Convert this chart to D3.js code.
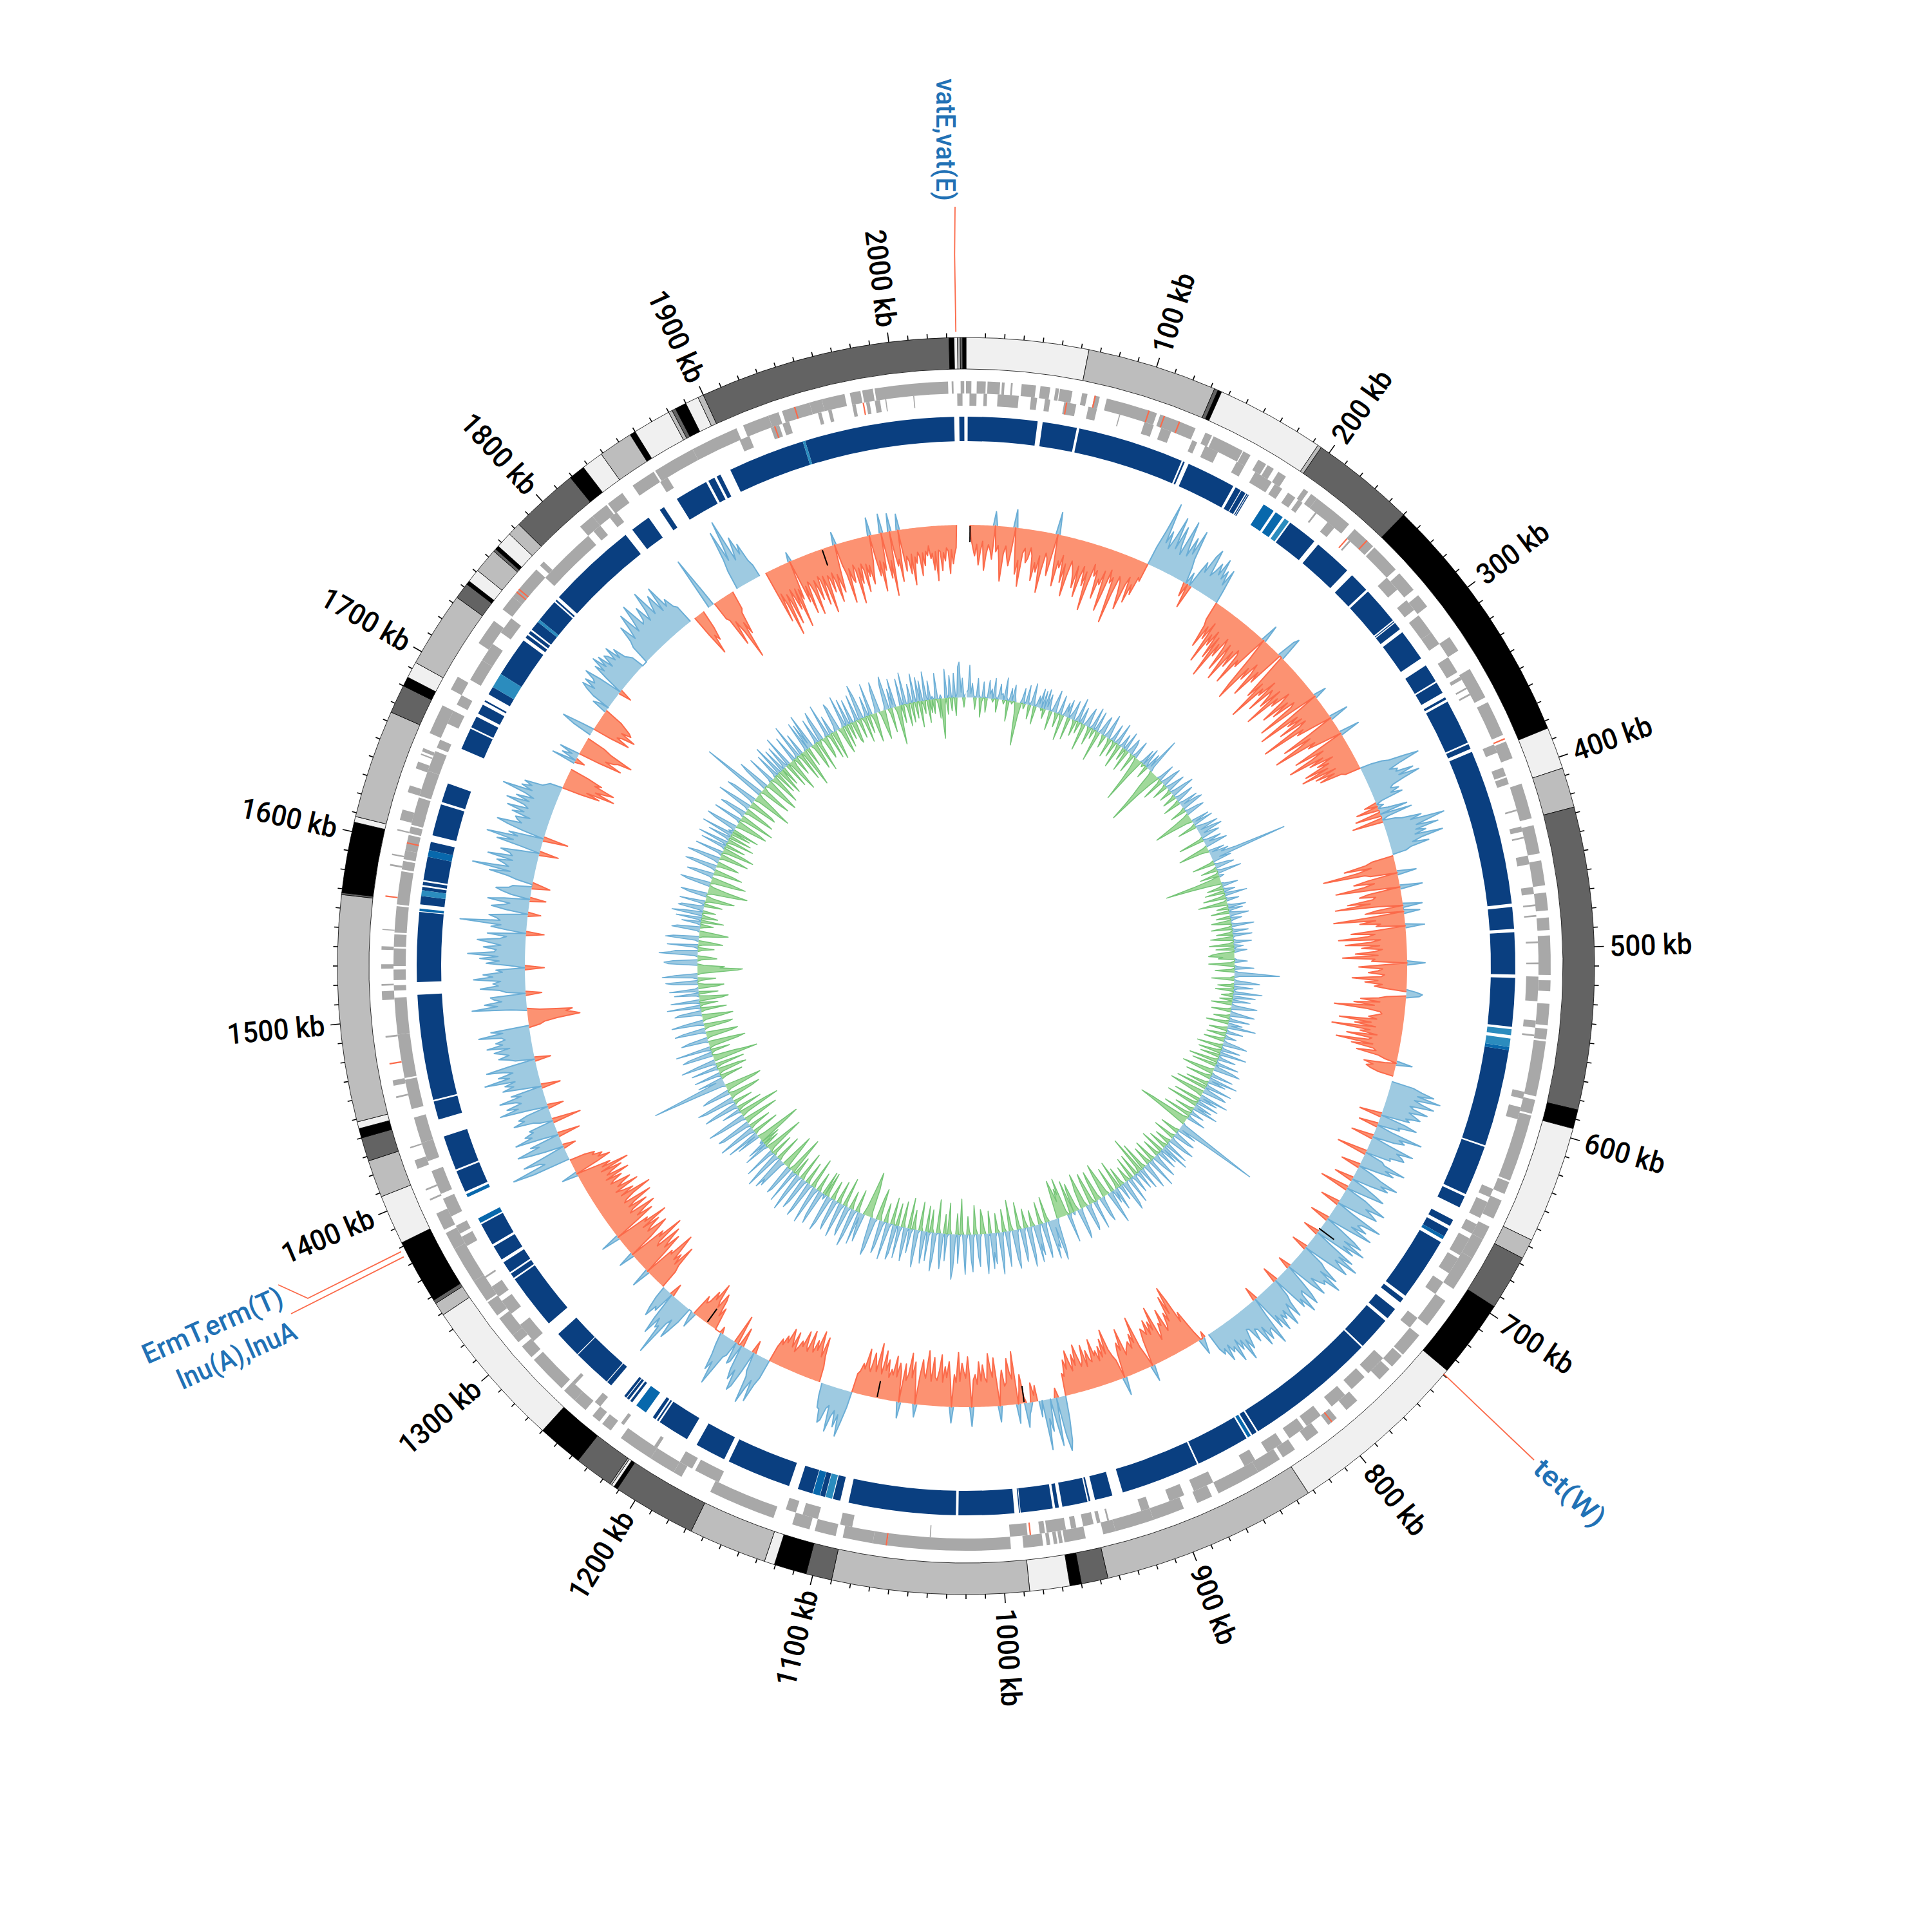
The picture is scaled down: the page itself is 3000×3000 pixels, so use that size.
<!DOCTYPE html>
<html><head><meta charset="utf-8">
<script src="https://cdnjs.cloudflare.com/ajax/libs/d3/7.8.5/d3.min.js"></script>
<style>html,body{margin:0;background:#fff}svg{display:block}</style></head><body>
<svg id="c" width="3000" height="3000"></svg>
<script>
const genomeKb = 2040;
const tickLabels = ["100 kb","200 kb","300 kb","400 kb","500 kb","600 kb","700 kb","800 kb","900 kb","1000 kb","1100 kb","1200 kb","1300 kb","1400 kb","1500 kb","1600 kb","1700 kb","1800 kb","1900 kb","2000 kb"];
const contigEnds = [64,132,134,136,193,195,250,384,406,427,585,595,656.5,667,696,737,833,946,960,966,987,1090,1103.6,1120.6,1126,1167,1211,1213,1214.5,1215.5,1236,1260,1339,1346,1348,1382,1408,1427.6,1440,1445,1448.6,1567,1568,1605,1608,1665,1680,1685,1693.6,1733.5,1742,1744,1751,1764,1765.5,1767.5,1776,1783,1819,1827.5,1839,1857,1860,1880,1882,1884,1890,1897,1900,2031.2,2033.8,2035.6,2037,2038.3,2040];
const contigShade = [3,2,1,0,3,2,1,0,3,2,1,0,3,2,1,0,3,2,1,0,3,2,1,0,3,2,1,0,3,2,1,0,3,2,1,0,3,2,1,0,3,2,1,0,3,2,1,0,3,2,1,0,3,2,1,0,3,2,1,0,3,2,0,3,2,1,0,3,2,1,0,3,2,1,0];
const shadeColors = ["#000000","#636363","#bdbdbd","#f0f0f0"];

// blocks of the blue ring, start and end in kb
const blocksDark = [[1,42.5],[45.5,66],[67.5,131],[132,133],[135.5,165],[166.6,170],[170.5,173.3],[174,174.6],[175,175.6],[205,223],[226,249],[253,265],[266.5,289],[289.8,290.4],[291,295.7],[298,317],[322,333],[334,341],[344,345.5],[347,374],[375,378],[380,473],[475,488],[490,515],[517,546],[560,618],[619,649],[650.5,657.7],[666,670],[672,677],[681,719],[721,724],[729,736],[738,758],[759,838],[839,842],[846,878],[879,926],[932.4,943],[945.8,946.8],[947.6,962.7],[964.8,967],[968.5,987.6],[988,988.6],[991.3,1024.5],[1026,1090],[1095,1099.5],[1104.3,1107.3],[1112,1121],[1126.5,1165],[1168,1186.4],[1193,1212],[1213,1214],[1215,1217],[1232,1233.5],[1234.5,1236],[1236.5,1238],[1248,1251],[1251.5,1274.7],[1275.2,1291.6],[1300,1333],[1334,1337],[1338,1345],[1347,1356],[1357.5,1371],[1392.5,1405.7],[1406.8,1427.5],[1438,1449],[1450,1513],[1520.5,1562],[1566.5,1571.5],[1575,1577],[1578,1580],[1581,1595],[1599,1604],[1608,1627],[1628.5,1640],[1662,1675],[1676,1683],[1685,1691],[1693,1694],[1698,1703],[1712,1736],[1738,1740],[1741,1743],[1744,1749.8],[1751.5,1765],[1766,1767],[1769,1823],[1828,1840],[1848,1851],[1860,1880],[1881.5,1885.5],[1887,1889.5],[1896,1942],[1943.5,2033],[2036,2039]];
const blocksMid = [[186,193],[194.5,199.5],[558,560],[677,679],[843,845],[1107.5,1111.7],[1222,1229],[1372,1375],[1389,1391],[1562.5,1564],[1595,1599]];
const blocksLight = [[201,204],[547.5,551],[553,558],[1100,1104],[1571.5,1575],[1703,1712],[1749.8,1751.5],[1942,1943.5]];

// genes on the outer and the inner strand, start and end in kb
const geneOuter = [[0,3],[6,11],[12,19],[20,21.5],[25,26],[31,39],[41.5,47],[50,52],[52.5,59.5],[65,68],[72,75],[79,108],[110,131],[137,141],[142,160],[160.5,165],[170,175],[176,180],[183,188],[200,203],[205,209],[209,232],[236,250],[251,268],[271,283],[287,295],[316,325],[337,355],[358,378],[382,392],[407,427],[431,447],[451,465],[469,479],[483,490],[493,515],[518,524],[531,543],[545,551],[552,583],[585,593],[594,632],[633,640],[644,655],[660,668],[668,680],[680,700],[708,725],[732,746],[747,755],[757,765],[782,790],[797,803],[810,818],[826,834],[836,850],[850,875],[879,888],[896,914],[914,936],[936,943],[953,965],[966,968],[969,971],[973,975],[977,988],[995,1064],[1064,1072],[1072,1089],[1093,1105],[1108,1118],[1129,1167],[1185,1190],[1190,1205],[1205,1225],[1232,1238],[1240,1245],[1250,1258],[1258,1266],[1268,1290],[1292,1300],[1303,1308],[1308,1320],[1322,1331],[1332,1345],[1345,1366],[1366,1376],[1378,1388],[1396,1397],[1402,1403],[1415,1420],[1427,1427.8],[1456,1457],[1463,1466],[1490,1491],[1511,1516],[1519,1520],[1528.5,1531],[1539,1541],[1550,1550.6],[1586,1587],[1592,1592.8],[1606,1606.8],[1612,1618],[1628,1632],[1642,1646],[1650,1650.8],[1652,1654],[1663,1680],[1690,1698],[1720,1735],[1743,1752],[1752,1772],[1775,1778],[1806,1815],[1815,1825],[1826,1836],[1843,1857],[1858,1882],[1882,1909],[1913,1928],[1928,1934],[1936,1952],[1952,1959],[1959,1972],[1975,1981],[1982,1988],[1989,2030],[2032,2033],[2037,2039]];
const geneInner = [[2,6],[10,12],[18,30],[37,40.5],[45,48],[56,63],[70,75],[88,88.6],[103,108.5],[113,119],[132,135],[140,148],[160,165],[172,183],[185,190],[194,199],[201,204],[213,214],[222,227],[238,239],[268,277],[285,292],[296,308],[308,316],[325,335],[338,340],[345,346],[349,350],[381,386],[395,400],[401,405],[420,421],[430,433],[436,437],[447,452],[465,469],[475,476],[481,482],[496,497],[508,509],[516,530],[541,545],[549,550],[582,586],[591,598],[640,645],[648,658],[662,668],[671,682],[684,694],[700,708],[725,732],[755,767],[770,780],[785,795],[803,813],[815,825],[830,840],[848,855],[875,887],[893,902],[914,919],[938,939],[943,945],[947,953],[957,960],[963,974],[975,978],[985,995],[1040,1040.6],[1085,1092],[1105,1114],[1118,1124],[1165,1180],[1182,1190],[1205,1207],[1228,1230],[1245,1249],[1264,1266],[1298,1310],[1318,1327],[1330,1337],[1343,1344],[1364,1370],[1372,1377],[1383,1394],[1397,1411],[1417,1428],[1428,1443],[1448,1465],[1466,1491],[1491,1512],[1516,1519],[1522,1528],[1530,1540],[1541,1548],[1549,1564],[1565,1584],[1585,1590],[1591,1596],[1596,1605],[1606,1610],[1611,1617],[1614,1627],[1628,1643],[1643,1655],[1657,1662],[1672,1680],[1684,1690],[1700,1713],[1713,1724],[1732,1742],[1772,1806],[1810,1815],[1822,1827],[1857,1862],[1908,1914],[1927,1932],[1934,1938],[1955,1957],[1961,1963],[1975,1977],[1983,1985],[1988,1991],[1994,1994.6],[2010,2010.6],[2035,2038]];
const geneRedOuter = [72,103,112,121,245,380,800,1064,1568.5,1475,1755,1757,1943];
const geneRedInner = [57,236,983,1600,1929,1981];

// GC skew, one row per stretch of the same main sign
const skewStart = [3,138,196,359,428,596,834,946,967,1105,1130,1170,1216,1240,1266,1383,1665,1685,1693,1709,1714,1733,1777,1825,1838,1843,1863,1887];
const skewEnd = [138,196,359,427,592,831,946,966,1105,1128,1170,1212,1238,1265,1382,1665,1680,1693,1706,1714,1733,1773,1821,1833,1842,1859,1882,2033];
const skew0 = [-20,-35,-48,-30,-62,-40,-25,-70,-45,-30,-38,-52,22,-40,-30,-55,-85,-42,-30,-48,-60,-35,28,-40,-72,-50,-90,-38,-30,-52,-45,-28,-40,-78,-50,-64,-38,-95,-58,-32,-40,-66,-35,35,-45,-80,-40,-50,-30,-72,-42,-92,-60,-35,-44,-55,-75,-40,-88,-55,-38,-68,-45,-105,-62,-30,-48,-38,-82,-50,-58,-35,-98,-70,-30,-50,-40,-112,-65,-35,-42,-60,-85,-45,-30,-70,-40,-55,-25,-30];
const skew1 = [30,60,105,42,62,35,55,90,40,78,48,35,92,60,38,70,45,85,40,25,-22,20,-38,24,45,30,60,72,30,40,55,38,66,35,50,28,55,20];
const skew2 = [-30,-40,-75,-38,-58,-28,-95,-45,-62,-35,-80,-42,-110,-50,-70,-35,-50,-88,-40,-65,-100,-45,-72,-38,-45,-95,-50,-60,-30,28,-35,-85,-110,-48,-68,-35,-52,-90,-42,-60,30,38,-40,-78,-50,-115,-55,-66,-35,-90,-45,-55,-75,-38,-105,-48,-62,-30,-48,-85,-40,-70,-32,-40,-100,-45,20,-50,-108,-42,-62,-38,-80,-35,-50,-115,-46,-58,-30,30,-40,-90,-45,-70,-110,-42,-55,-30,32,-45,-85,-38,-60,-100,-44,-68,-30,-58,-40,-82,-45,-90,-35,-70,-40,-65,-30,-25];
const skew3 = [18,35,45,70,92,60,40,52,48,75,50,82,55,35,30,42,28,45,10,-20,10,-35,15,45,-40,50,10,-48,20,30,60,42,95,70,48,82,45,60,42,85,50,35,60,30,22];
const skew4 = [-35,-45,-80,-38,-60,-115,-50,-42,30,-48,-70,-38,-55,-100,-45,35,-50,-65,-40,-45,-85,-50,-105,-38,30,-42,-60,25,-50,-110,-45,-70,-38,-45,30,-40,-85,-48,-60,-105,-40,-55,-95,-42,-70,-38,-50,-80,-45,-100,-50,-55,28,-40,-75,-38,-45,-60,-35,-40,-85,-45,-65,-38,-50,-30,15,25,20,-30,-42,-70,-40,-80,-48,-110,-60,-38,-35,-45,-55,-42,-100,-50,-75,-42,-110,-50,-65,-38,-85,-45,-50,-100,-42,-75,-40,-35,-65,-30,-20,25,-18,-50,-35,-45,-38,-25];
const skew5 = [35,50,70,45,82,42,55,75,38,45,68,40,50,60,38,45,-35,40,60,32,35,-30,25,75,40,50,35,-35,30,70,45,55,60,38,40,-47,30,35,70,40,55,30,-30,25,40,70,45,58,32,-30,28,45,60,30,-45,35,50,72,42,55,65,38,-30,30,80,50,45,62,38,75,40,-30,30,55,70,42,80,45,65,-25,30,72,50,85,48,60,75,40,-25,35,45,70,42,82,55,60,50,38,68,45,-20,30,55,70,40,45,75,48,60,-25,30,40,65,38,50,72,42,55,45,70,40,60,-22,30,80,50,52,65,40,70,38,35,55,30,28,42,58,40,72,36,50,30,65,38,45,30,55,32,40,28];
const skew6 = [-10,12,25,-15,-35,-55,-40,-80,-103,-60,-90,-50,-65,-45,-38,-75,-50,-55,-40,-30,-86,-50,-65,-45,-70,-48,-55,-60,-42,25,-20,-35,-85,-45,-60,-38,-50,-45,-40,-32,-75,-42,-55,-40,28,-30,-38,-50,-83,-45,-70,-42,-60,-38,-55,-48,-75,-40,-45,-60,-35,-70,-45,-38,-55,-74,-42,-60,-35,-50,-68,-40,-55,-30,-35];
const skew7 = [35,70,85,60,-15,75,40,0,50,30,78,0,25];
const skew8 = [-25,-10,-30,10,18,38,-10,-45,-20,30,-82,-40,-50,-72,-35,-30,-55,-38,25,-40,-75,-45,-60,-82,-38,-45,-65,-40,-70,-35,-50,-42,30,-48,-78,-45,-55,-68,-40,-85,-38,-50,25,-42,-70,-45,-62,-38,-80,-55,-40,-45,-75,-38,-60,-85,-42,-50,-70,-45,20,-38,-65,-40,-78,-45,-35,-60,25,-48,-60,-38,-70,-40,-48,-35,-62,-45,-75,-38,-52,-85,-40,-55,-68,-38,-45,-72,-40,-48,-35,-30];
const skew9 = [25,50,73,40,60,35,45,70,30,35,55,60,40,38,20];
const skew10 = [-25,-40,-70,-38,-55,-77,-45,-60,-40,-50,-72,-38,-45,-68,-42,-50,-38,-30,-60,-35,-50,-62,-38,-48,-32,-40,-25];
const skew11 = [30,45,73,40,55,80,38,30,-20,35,62,70,38,55,40,-30,30,35,-46,25,30,55,80,45,60,35,20,-10];
const skew12 = [-12,-35,-20,-45,-55,-30,-40,-67,-38,-50,-30,-25,-35,25,10];
const skew13 = [25,45,60,30,40,97,50,55,40,70,45,-20,35,30,50,38,20];
const skew14 = [-30,-40,-73,-38,-55,-42,-65,-85,-45,-50,30,-42,-72,-45,-60,-80,-38,-45,-90,-50,-60,25,-40,-60,-75,-42,-50,-68,-40,-85,-48,-55,30,-40,-70,-45,-60,-80,-38,-45,-72,-42,-55,-85,-40,-45,-60,-91,-42,-65,-50,-38,-78,-45,-55,-70,-38,-45,-60,-35,-75,-40,-50,-68,-35,-82,-40,-55,-30,25,-38,-60,-42,-50,-35,-40,-25];
const skew15 = [60,93,38,45,70,32,-20,30,55,72,35,48,-35,28,68,40,50,35,40,-45,20,30,60,42,50,35,-25,30,75,45,62,38,45,70,35,50,-30,30,60,42,55,38,85,45,62,38,50,78,42,-25,30,40,55,38,48,60,35,70,45,55,40,45,80,42,60,-18,-25,-45,-81,-72,-60,-70,-20,25,85,45,65,38,50,55,-25,30,40,70,42,50,38,80,50,65,35,45,-30,25,60,40,70,42,89,48,45,65,38,55,75,40,30,60,-28,30,55,40,104,42,48,60,30,-20,35,58,40,30,65,40,-25,30,45,55,35,30,-28,-15,25,40,70,38,98,42,50,62,38,78,40,45,60,30,-30,30,70,45,88,40,55,-39,35,60,78,40,48,52,30,60,42,70,38,45,75,40,62,35,50,88,42,60,45,58,30,25,20];
const skew16 = [-30,-60,-38,-82,-50,-65,-78,-45,-55,-30];
const skew17 = [38,-15,25,10,32];
const skew18 = [-35,-70,-42,-55,-60,-82,-45,-30];
const skew19 = [30,52,20];
const skew20 = [-30,-60,-38,-45,-65,-40,-55,-50,-40,-30,25,15];
const skew21 = [30,45,55,35,55,40,45,62,38,-20,30,55,40,65,42,60,35,55,50,38,60,35,50,30,25,20];
const skew22 = [30,40,65,38,55,78,42,60,85,45,50,70,42,58,88,45,60,72,40,80,42,52,35,30];
const skew23 = [-35,-70,-40,-50,-30];
const skew24 = [85,30];
const skew25 = [-30,-35,-80,-42,-62,-108,-50,-70,-35,-30];
const skew26 = [30,50,95,45,70,108,40,55,75,45,60,30,20];
const skew27 = [-35,-85,-40,-60,-110,-45,-60,-95,-40,-55,-75,-42,-105,-45,-62,15,-35,-70,-45,-90,-40,-45,-60,-95,-42,-55,-75,-38,-45,-85,-40,-60,-100,-42,-48,-70,-40,-55,-88,-45,-60,-75,-35,20,-35,-50,-95,-42,-60,-65,-38,-48,-100,-45,-70,-40,-50,-85,-42,-62,-45,-75,-55,-40,28,-40,-65,-42,-90,-45,-58,30,-40,-72,-45,-100,28,-35,-55,-45,-80,25,-35,-65,-42,-50,-70,-40,-88,-45,-55,-38,-45,-75,-40,-60,-38,-45,-30,-50,-42,-68,-40,-85,-38,-40,-70,-42,-55,-35,-40,-75,-38,-60,-45,-35];
const skewRows = [skew0,skew1,skew2,skew3,skew4,skew5,skew6,skew7,skew8,skew9,skew10,skew11,skew12,skew13,skew14,skew15,skew16,skew17,skew18,skew19,skew20,skew21,skew22,skew23,skew24,skew25,skew26,skew27];
const skewBlackKb = [3,717.5,977,1086,1224,1932];

// GC content, one row per 100 kb
const gc0 = [8,12,50,6,22,4,-18,3,30,5,-30,-6,25,3,-22,2,28,7,15,-5,32,4,-20,6,24,8,10,-6,35,5,-32,3,20,-4,26,9,-12,-45,-67,-20,6,24,-8,3,30,5,-22,7,35,9,-28,4,18,6,30,-4,28,-15,32,5];
const gc1 = [25,6,-30,3,18,35,-5,-22,4,30,-8,-40,5,22,8,28,-35,6,15,30,-4,-25,8,38,-18,5,26,-6,-42,7,20,30,-5,-28,6,35,-15,4,32,-8,-48,6,22,30,-5,-20,8,38,18,-6,-30,5,28,-4,-25,9,35,-8,-38,4];
const gc2 = [22,5,-20,30,-6,-35,8,25,18,-4,-30,6,28,-5,-18,-40,-75,-30,4,25,-5,30,8,-20,26,6,57,8,-6,-30,-45,-65,-92,-40,-15,5,28,-6,-35,7,22,32,-5,-25,6,18,30,-4,-20,8,26,38,-6,-22,5,30,18,-8,-28,6];
const gc3 = [30,6,28,35,-6,-25,4,22,30,-8,-25,-45,-62,-35,-10,28,5,32,-6,-30,8,18,35,5,25,38,7,20,30,-5,-40,6,28,8,22,35,-6,-30,-48,-10,25,5,30,18,42,122,12,30,-6,-35,4,22,30,-5,-25,6,38,-4,-30,8];
const gc4 = [-15,-45,-88,-50,-20,5,25,-6,-25,4,18,-30,6,35,-8,-35,3,20,-5,-45,-20,6,28,-18,22,4,-28,15,30,3,-22,18,5,-30,-20,6,35,-6,-32,4,25,-5,-25,30,3,-35,-20,5,28,-8,-38,15,4,-28,20,6,-25,-35,-40,-18];
const gc5 = [-25,4,20,-6,-40,-20,5,30,-5,-30,6,38,70,8,-6,-35,4,25,40,-5,-25,30,6,-28,4,45,-6,-18,35,5,-20,28,-8,-32,6,40,25,-5,-30,4,20,38,-6,-25,5,32,-5,-35,22,6,44,-8,-28,4,26,-5,-30,5,18,-6];
const gc6 = [-32,5,25,38,-6,-40,4,30,-8,-35,42,5,-30,6,28,-5,-45,4,36,-38,6,30,42,-6,-50,-30,5,35,-8,-40,45,6,28,-5,-35,4,42,-48,8,30,38,-55,-35,-10,45,6,30,-42,4,35,-8,-50,28,6,40,-5,-30,4,22,-8];
const gc7 = [-45,5,30,-8,-60,-83,-50,-25,4,55,132,45,6,30,-6,-30,4,35,25,-5,-35,6,42,30,-8,-25,5,38,-6,-30,45,4,28,-38,6,32,-5,-28,8,40,22,-6,-35,5,48,-8,-30,4,25,42,-6,-45,5,35,-60,-8,30,6,-35,4];
const gc8 = [30,6,-35,4,42,-8,-25,5,38,48,-6,-30,25,4,-45,-8,36,5,22,-40,6,52,28,-6,-30,-54,-35,5,40,30,-8,-48,-35,4,45,-6,-50,-38,5,35,42,-8,-55,-40,-30,6,38,48,-8,-45,-35,5,-52,-25,5,45,-6,-60,-35,-45];
const gc9 = [-25,-45,-60,-35,8,50,65,12,45,38,60,-8,-40,6,42,55,-6,-35,8,48,30,58,-6,-25,5,45,62,-8,-30,6,40,52,-6,-42,5,35,60,45,-8,-48,4,30,55,-6,-35,8,42,65,-5,-30,6,48,30,55,-35,4,40,62,-8,-28];
const gc10 = [-38,5,50,35,-8,-45,6,58,40,-5,-28,8,62,30,-6,-55,4,45,-32,6,52,70,36,-8,-48,5,42,-30,6,55,35,-8,-52,4,40,60,-6,-35,5,45,-40,8,50,32,-6,-45,4,58,42,-8,-30,6,38,-48,5,52,35,-6,-40,8];
const gc11 = [50,6,-35,45,55,-6,-42,5,30,58,-8,-30,6,40,52,-8,-50,-35,5,48,60,35,-6,-45,-58,-71,-40,-12,45,30,8,52,-6,-35,5,42,60,-8,-28,6,48,38,-5,-45,8,55,32,-6,-35,4,50,40,-8,-30,6,45,58,-5,-38,8];
const gc12 = [-38,5,55,42,-6,-30,8,60,35,-8,-48,5,45,58,-6,-35,4,40,52,-8,-45,6,62,38,-5,-30,8,55,-60,-40,-8,42,50,-6,-35,-55,-30,5,48,38,55,-8,-42,6,60,35,-5,-35,8,50,-8,-62,-40,-15,5,40,-25,30,-30,5];
const gc13 = [-50,-72,-45,-12,38,5,52,-6,-42,8,60,35,-8,-35,6,48,55,-8,-55,-35,5,42,62,-10,-65,-45,4,30,-8,-40,6,55,38,-5,-30,8,48,60,-6,-38,-50,-8,45,35,-6,-48,-58,-30,5,45,118,58,12,40,-8,-35,5,42,-6,-45];
const gc14 = [-35,5,42,-8,-45,6,55,30,-70,-50,-35,-6,48,38,-5,-30,8,55,-8,-45,-58,-35,4,42,30,-6,-40,-50,-25,5,48,35,-6,-38,-45,8,50,30,-5,-30,-48,-25,6,42,35,-8,-40,6,52,-5,-28,8,45,-35,-45,-15,5,38,-30,6];
const gc15 = [45,5,-30,-40,-10,38,50,-6,-28,8,55,35,-6,-35,-62,-70,-35,-42,-10,45,52,38,-6,-30,-20,5,60,42,35,-8,-25,6,48,-8,-38,-22,5,52,40,-6,-30,-45,-25,5,44,36,-8,-20,6,30,-35,5,40,-25,-8,48,30,-20,6,40];
const gc16 = [35,5,-28,8,40,-6,-35,-45,-10,30,42,-6,-30,-50,-62,-30,-8,36,48,-6,-40,-55,-35,5,42,30,-8,-45,-30,6,50,40,-6,-35,-25,8,52,38,-5,-45,-30,6,44,-8,-50,-35,5,40,-32,6,48,-8,-42,6,36,-35,5,50,-30,8];
const gc17 = [-42,5,36,50,-6,-30,-50,-38,5,45,-8,-55,-30,6,42,35,-6,-48,-35,5,55,30,-8,-45,-38,6,50,40,-8,-62,-45,-30,-8,102,45,-5,-35,-50,-8,38,52,-6,-40,-55,-32,5,45,-8,-48,-30,6,40,-35,4,50,-42,-20,38,-30,6];
const gc18 = [38,5,-40,50,-6,-35,-52,-10,42,-6,-30,6,55,-8,-45,35,-6,-60,-38,5,48,-30,42,8,55,-6,-42,-30,5,40,-50,-8,35,48,-6,-35,-28,5,52,-6,-40,30,5,-45,-25,8,45,38,-6,-30,-42,5,50,-35,6,42,-25,5,38,-30];
const gc19 = [-35,5,42,-6,-30,55,38,-8,-40,6,32,-28,5,50,-8,-45,-25,6,35,48,-6,-30,-45,-25,5,40,52,-8,-38,30,5,45,-8,-60,-35,-10,42,-28,5,50,-6,-35,8,30,-30,5,45,-25,6,38,-40,32,-6,-20,45,5,-35,30,-20,5];
const gc20 = [-22,5,40,-8,-30,6,-62,-40,-10,45,-25,5,35,-20,4,38,-28,6,48,55,8,30,-15,6];
const gcRows = [gc0,gc1,gc2,gc3,gc4,gc5,gc6,gc7,gc8,gc9,gc10,gc11,gc12,gc13,gc14,gc15,gc16,gc17,gc18,gc19,gc20];

const cx = 1500, cy = 1500;
const svg = d3.select("#c");
const g = svg.append("g").attr("transform", `translate(${cx},${cy})`);
const ang = d3.scaleLinear().domain([0, genomeKb]).range([0, 2 * Math.PI]);
const deg = k => ang(k) * 180 / Math.PI;
const polar = (k, r) => [r * Math.sin(ang(k)), -r * Math.cos(ang(k))];
const arc = d3.arc();

function ringArc(a, b, r0, r1) {
  return arc({ innerRadius: r0, outerRadius: r1, startAngle: ang(a), endAngle: ang(b) });
}

// outer contig ring
const contigs = contigEnds.map((e, i) => ({ a: i ? contigEnds[i - 1] : 0, b: e, s: contigShade[i] }));
g.append("g").selectAll("path").data(contigs).join("path")
  .attr("d", d => ringArc(d.a, d.b, 927, 976))
  .attr("fill", d => shadeColors[d.s]).attr("stroke", "#000").attr("stroke-width", 0.8);

// ticks
const minor = d3.range(10, genomeKb, 10);
g.append("g").selectAll("line").data(minor).join("line")
  .attr("x1", d => polar(d, 976)[0]).attr("y1", d => polar(d, 976)[1])
  .attr("x2", d => polar(d, d % 100 === 0 ? 991 : 983)[0]).attr("y2", d => polar(d, d % 100 === 0 ? 991 : 983)[1])
  .attr("stroke", "#000").attr("stroke-width", 1.6);

const labFont = "Roboto, 'Open Sans', sans-serif";
tickLabels.forEach((t, i) => {
  const k = (i + 1) * 100, a = deg(k), right = a < 180;
  const [x, y] = polar(k, 1000);
  g.append("text").text(t).attr("transform", `translate(${x},${y}) rotate(${right ? a - 90 : a + 90})`)
    .attr("text-anchor", right ? "start" : "end").attr("dominant-baseline", "central")
    .attr("font-family", labFont).attr("font-size", 45).attr("font-weight", 500).attr("fill", "#000")
    .attr("textLength", t.length === 6 ? 128 : 152).attr("lengthAdjust", "spacingAndGlyphs");
});

// genes
const geneG = g.append("g");
geneG.selectAll(".o").data(geneOuter).join("path").attr("class", "o")
  .attr("d", d => ringArc(d[0], d[1], 889, 908)).attr("fill", "#a8a8a8");
geneG.selectAll(".i").data(geneInner).join("path").attr("class", "i")
  .attr("d", d => ringArc(d[0], d[1], 870, 889)).attr("fill", "#a8a8a8");
geneG.selectAll(".ro").data(geneRedOuter).join("path").attr("class", "ro")
  .attr("d", d => ringArc(d, d + 0.8, 889, 908)).attr("fill", "#fb6a4a");
geneG.selectAll(".ri").data(geneRedInner).join("path").attr("class", "ri")
  .attr("d", d => ringArc(d, d + 0.8, 870, 889)).attr("fill", "#fb6a4a");

// blue ring
const blockColors = ["#0a3f80", "#0868ac", "#2b8cbe"];
[blocksDark, blocksMid, blocksLight].forEach((list, s) => {
  g.append("g").selectAll("path").data(list).join("path")
    .attr("d", d => ringArc(d[0], d[1], 815, 853)).attr("fill", blockColors[s]);
});

// signal tracks
function drawTrack(points, r0, posFill, posLine, negFill, negLine, sw) {
  const rad = d3.scaleLinear().domain([-100, 100]).range([r0 - 100, r0 + 100]);
  const pos = points.map(d => ({ kb: d.kb, v: Math.max(d.v, 0) }));
  const neg = points.map(d => ({ kb: d.kb, v: Math.min(d.v, 0) }));
  [[pos, posFill, posLine], [neg, negFill, negLine]].forEach(([pts, fill, line]) => {
    const area = d3.areaRadial().angle(d => ang(d.kb)).innerRadius(rad(0)).outerRadius(d => rad(d.v));
    g.append("path").attr("d", area(pts)).attr("fill", fill);
    const ln = d3.lineRadial().angle(d => ang(d.kb)).radius(d => rad(d.v))
      .defined((d, i) => d.v !== 0 || (pts[i - 1] && pts[i - 1].v !== 0) || (pts[i + 1] && pts[i + 1].v !== 0));
    g.append("path").attr("d", ln(pts)).attr("fill", "none").attr("stroke", line).attr("stroke-width", sw).attr("stroke-linejoin", "round");
  });
}

const skewPoints = [];
skewRows.forEach((row, i) => {
  const a = skewStart[i], b = skewEnd[i], step = (b - a) / row.length;
  skewPoints.push({ kb: a, v: 0 });
  row.forEach((v, j) => skewPoints.push({ kb: a + (j + 0.5) * step, v }));
  skewPoints.push({ kb: b, v: 0 });
});
drawTrack(skewPoints, 685, "#9ecae1", "#6baed6", "#fc9272", "#fb6a4a", 2);

g.append("g").selectAll("line").data(skewBlackKb).join("line")
  .attr("x1", d => polar(d, 683)[0]).attr("y1", d => polar(d, 683)[1])
  .attr("x2", d => polar(d, d === 717.5 ? 712 : 658)[0]).attr("y2", d => polar(d, d === 717.5 ? 712 : 658)[1])
  .attr("stroke", "#000").attr("stroke-width", 2);

const gcPoints = [];
gcRows.forEach((row, i) => {
  const a = i * 100, step = (i < 20 ? 100 : 40) / row.length;
  row.forEach((v, j) => gcPoints.push({ kb: a + (j + 0.5) * step, v }));
});
drawTrack(gcPoints, 417, "#9ecae1", "#6baed6", "#a1d99b", "#74c476", 1.5);

// annotations
const annoBlue = "#2171b5", annoRed = "#fb6a4a";
function poly(pts) {
  svg.append("path").attr("d", d3.line()(pts)).attr("fill", "none").attr("stroke", annoRed).attr("stroke-width", 1.8);
}
function note(t, x, y, rot, anchor, len) {
  svg.append("text").text(t).attr("transform", `translate(${x},${y}) rotate(${rot})`)
    .attr("text-anchor", anchor).attr("dominant-baseline", "central")
    .attr("font-family", labFont).attr("font-size", 43).attr("font-weight", 500).attr("fill", annoBlue)
    .attr("textLength", len).attr("lengthAdjust", "spacingAndGlyphs");
}
const abs = (k, r) => { const [x, y] = polar(k, r); return [x + cx, y + cy]; };
poly([abs(2034.8, 985), abs(2034.8, 1105), [1483, 321]]);
note("vatE,vat(E)", 1469, 217, 90, "middle", 190);
poly([abs(1378, 983), [478, 2016], [432, 1995]]);
poly([abs(1375, 983), [452, 2040]]);
note("ErmT,erm(T)", 437, 2011, -23.7, "end", 234);
note("lnu(A),lnuA", 458, 2064, -24, "end", 198);
poly([abs(739.5, 975), [2382, 2267]]);
note("tet(W)", 2388, 2273, 42, "start", 134);
</script></body></html>
